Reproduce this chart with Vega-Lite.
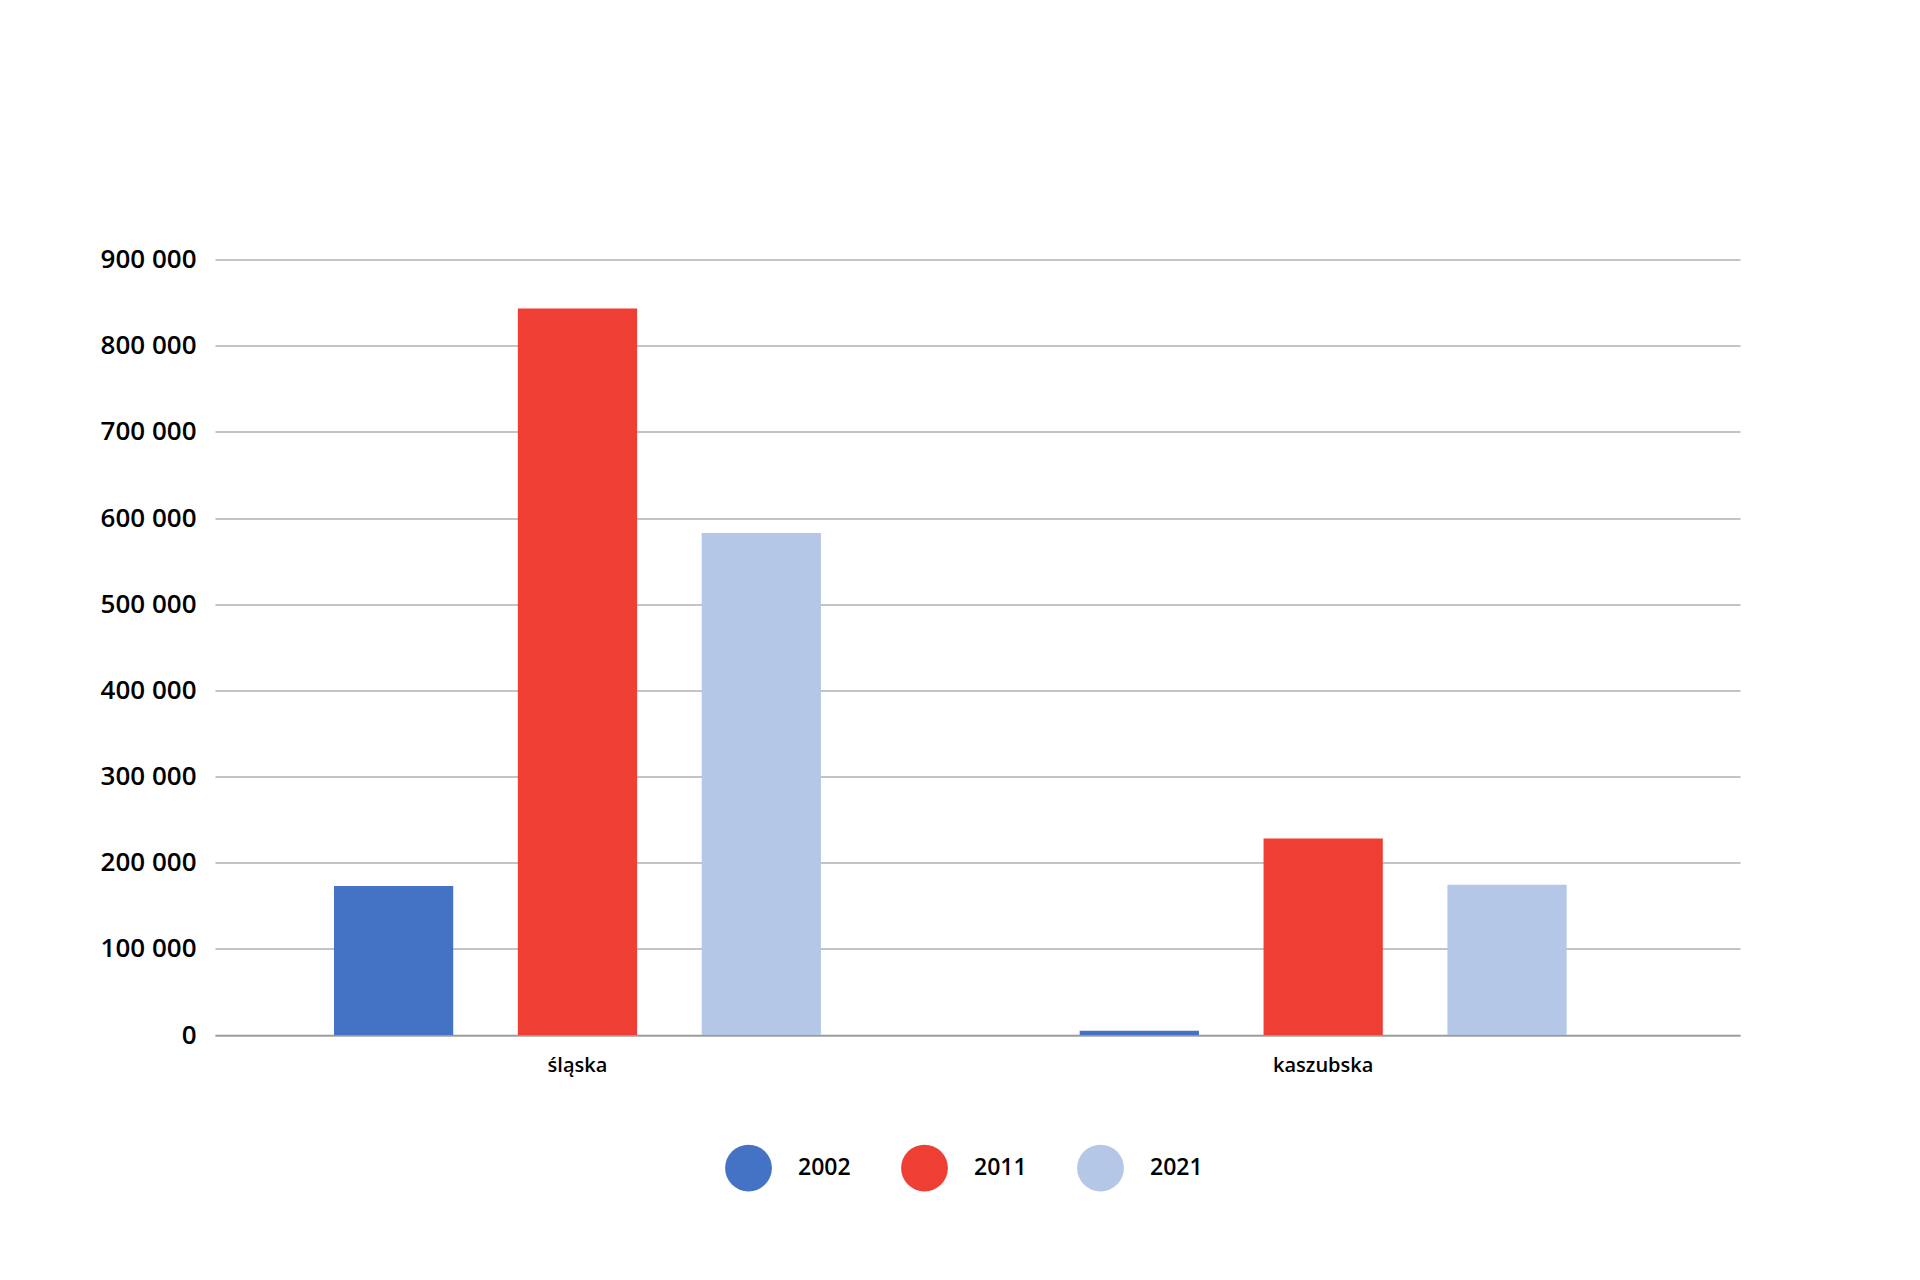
{
  "$schema": "https://vega.github.io/schema/vega-lite/v6.json",
  "autosize": "none",
  "padding": {"left": 215, "top": 259.5, "right": 180, "bottom": 245},
  "width": 1525,
  "height": 775.5,
  "background": "white",
  "config": {"view": {"stroke": null}, "font": "Open Sans"},
  "data": {
    "values": [
      {"jezyk": "śląska", "rok": "2002", "wartosc": 173000},
      {"jezyk": "śląska", "rok": "2011", "wartosc": 843000},
      {"jezyk": "śląska", "rok": "2021", "wartosc": 582500},
      {"jezyk": "kaszubska", "rok": "2002", "wartosc": 5000},
      {"jezyk": "kaszubska", "rok": "2011", "wartosc": 228000},
      {"jezyk": "kaszubska", "rok": "2021", "wartosc": 174500}
    ]
  },
  "mark": {"type": "bar"},
  "encoding": {
    "x": {
      "field": "jezyk",
      "type": "nominal",
      "sort": ["śląska", "kaszubska"],
      "scale": {"paddingInner": 0.347, "paddingOuter": 0.196, "align": 0.407},
      "axis": {
        "title": null,
        "labelAngle": 0,
        "ticks": false,
        "tickSize": 0,
        "labelPadding": 20,
        "labelBaseline": "top",
        "labelFontSize": 20,
        "labelFont": "Open Sans",
        "labelFontWeight": 600,
        "labelColor": "#000000",
        "domainColor": "#999999",
        "domainWidth": 1.6
      }
    },
    "xOffset": {
      "field": "rok",
      "type": "nominal",
      "scale": {"paddingInner": 0.3515, "paddingOuter": 0}
    },
    "y": {
      "field": "wartosc",
      "type": "quantitative",
      "scale": {"domain": [0, 900000], "nice": false},
      "axis": {
        "title": null,
        "values": [0, 100000, 200000, 300000, 400000, 500000, 600000, 700000, 800000, 900000],
        "labelExpr": "replace(format(datum.value, ','), ',', ' ')",
        "domain": false,
        "ticks": false,
        "tickSize": 0,
        "labelPadding": 19,
        "labelFontSize": 26,
        "labelFont": "Open Sans",
        "labelFontWeight": 600,
        "labelColor": "#000000",
        "gridColor": "#8a8a8a",
        "gridWidth": 1.2
      }
    },
    "color": {
      "field": "rok",
      "type": "nominal",
      "scale": {"domain": ["2002", "2011", "2021"], "range": ["#4472C4", "#EF3E33", "#B4C7E7"]},
      "legend": {
        "title": null,
        "orient": "none",
        "legendX": 510,
        "legendY": 885,
        "direction": "horizontal",
        "padding": 0,
        "symbolType": "circle",
        "symbolSize": 2190,
        "symbolStrokeWidth": 0,
        "symbolOpacity": 1,
        "labelFontSize": 23,
        "labelFont": "Open Sans",
        "labelFontWeight": 600,
        "labelColor": "#000000",
        "labelOffset": 26,
        "columnPadding": 50
      }
    }
  }
}
